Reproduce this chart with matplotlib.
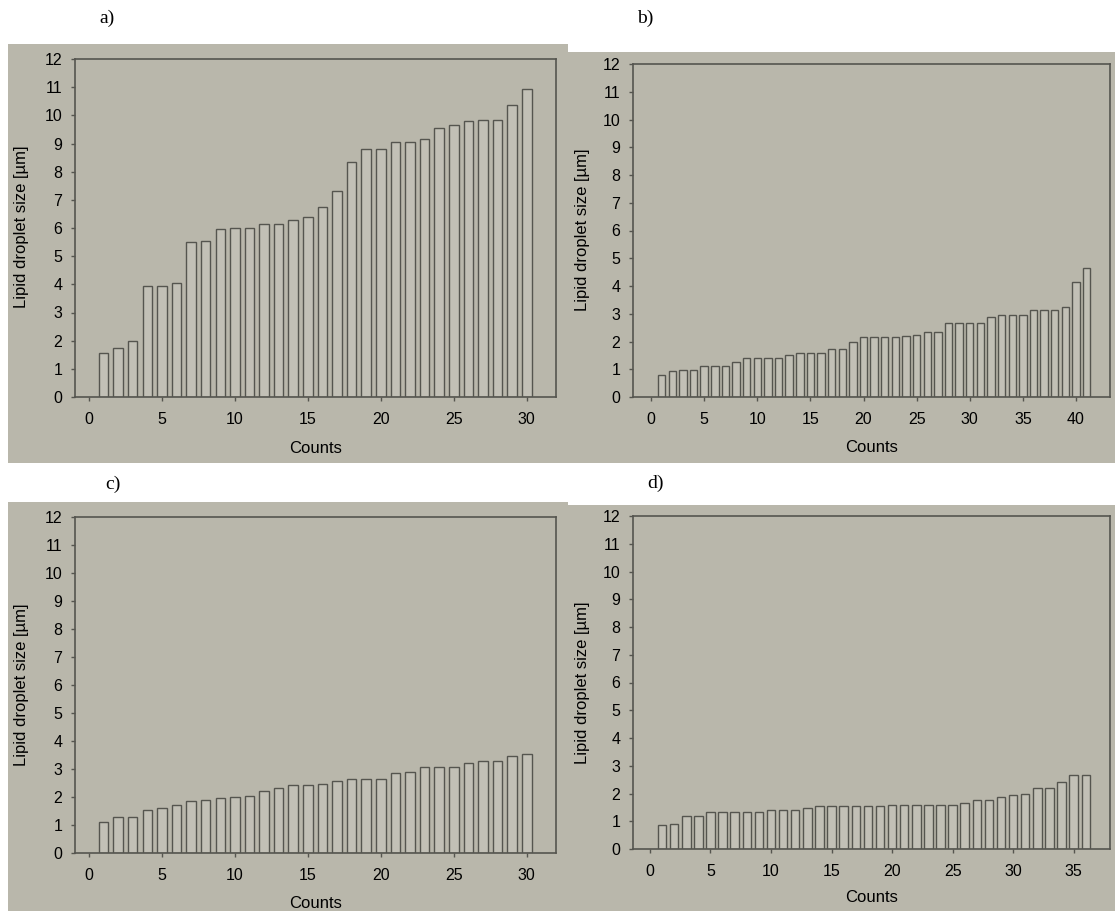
import matplotlib
matplotlib.use("Agg")
import matplotlib.pyplot as plt
from matplotlib.patches import Rectangle

# ---------------- data ----------------
sizes_a = [1.55, 1.75, 2.0, 3.95, 3.95, 4.05, 5.5, 5.55, 5.95, 6.0, 6.0, 6.15, 6.15,
           6.3, 6.4, 6.75, 7.3, 8.35, 8.8, 8.8, 9.05, 9.05, 9.15, 9.55, 9.65, 9.8,
           9.85, 9.85, 10.35, 10.95]
sizes_b = [0.8, 0.95, 0.97, 0.97, 1.1, 1.1, 1.1, 1.25, 1.4, 1.4, 1.4, 1.4, 1.5, 1.57,
           1.57, 1.6, 1.72, 1.72, 1.98, 2.18, 2.18, 2.18, 2.18, 2.2, 2.25, 2.35, 2.35,
           2.65, 2.65, 2.65, 2.68, 2.88, 2.97, 2.97, 2.97, 3.12, 3.12, 3.15, 3.25,
           4.15, 4.65]
sizes_c = [1.1, 1.3, 1.3, 1.55, 1.6, 1.72, 1.87, 1.88, 1.97, 2.0, 2.02, 2.22, 2.33,
           2.42, 2.42, 2.47, 2.56, 2.65, 2.65, 2.65, 2.85, 2.88, 3.07, 3.07, 3.07,
           3.22, 3.3, 3.3, 3.45, 3.52]
sizes_d = [0.88, 0.9, 1.18, 1.18, 1.32, 1.32, 1.35, 1.35, 1.35, 1.4, 1.4, 1.4, 1.48,
           1.55, 1.55, 1.55, 1.55, 1.55, 1.55, 1.57, 1.57, 1.57, 1.57, 1.57, 1.58,
           1.65, 1.78, 1.78, 1.88, 1.95, 1.98, 2.2, 2.2, 2.42, 2.65, 2.65]
panel_labels = ["a)", "b)", "c)", "d)"]
xticks_a = [0, 5, 10, 15, 20, 25, 30]
xticks_b = [0, 5, 10, 15, 20, 25, 30, 35, 40]
xticks_c = [0, 5, 10, 15, 20, 25, 30]
xticks_d = [0, 5, 10, 15, 20, 25, 30, 35]
yticks = list(range(0, 13))
xlabel = "Counts"
ylabel = "Lipid droplet size [µm]"

# ---------------- styling ----------------
W, H = 1115, 911
BG = "#b9b7ab"
BAR_FILL = "#c2c0b6"
EDGE = "#55554f"
SANS = ["Liberation Sans", "DejaVu Sans"]
SERIF = ["Liberation Serif", "DejaVu Serif"]

fig = plt.figure(figsize=(W / 100, H / 100), dpi=100)
fig.patch.set_facecolor("white")

def px_rect(x0, y0, x1, y1):
    return [x0 / W, (H - y1) / H, (x1 - x0) / W, (y1 - y0) / H]

# panel gray backgrounds (pixel boxes)
bg_boxes = [(8, 44, 568, 463), (568, 52, 1115, 463), (8, 502, 568, 911), (568, 505, 1115, 911)]
for (x0, y0, x1, y1) in bg_boxes:
    r = Rectangle((x0 / W, (H - y1) / H), (x1 - x0) / W, (y1 - y0) / H,
                  transform=fig.transFigure, facecolor=BG, edgecolor="none", zorder=-10)
    fig.add_artist(r)

axes_boxes = [(75, 59, 556, 397), (633, 64, 1110, 397), (75, 517, 556, 853), (633, 516, 1110, 849)]
xlims = [(-0.95, 32.0), (-1.7, 43.2), (-0.95, 32.0), (-1.4, 38.0)]
datasets = [sizes_a, sizes_b, sizes_c, sizes_d]
xticks_all = [xticks_a, xticks_b, xticks_c, xticks_d]
title_pos = [(107, 18), (645, 18), (113, 484), (655, 483)]
xlabel_y = [449, 447, 903, 898]
ylabel_x = [22, 583, 22, 583]
ylabel_y = [227, 230, 685, 683]

for i, (box, data, xl, xt) in enumerate(zip(axes_boxes, datasets, xlims, xticks_all)):
    ax = fig.add_axes(px_rect(*box), zorder=5)
    ax.set_facecolor("none")
    xs = list(range(1, len(data) + 1))
    width = 0.65 if len(data) <= 30 else 0.7
    ax.bar(xs, data, width=width, color=BAR_FILL, edgecolor=EDGE, linewidth=1.0)
    ax.set_xlim(*xl)
    ax.set_ylim(0, 12)
    ax.set_xticks(xt)
    ax.set_yticks(yticks)
    for s in ax.spines.values():
        s.set_color(EDGE)
        s.set_linewidth(1.2)
    ax.tick_params(axis="both", direction="out", length=3, width=1, color=EDGE,
                   labelsize=11.5, labelcolor="black")
    ax.tick_params(axis="x", pad=8)
    ax.tick_params(axis="y", pad=6)
    for lab in ax.get_xticklabels() + ax.get_yticklabels():
        lab.set_family(SANS)
    x0, y0, x1, y1 = box
    fig.text((x0 + x1) / 2 / W, 1 - xlabel_y[i] / H, xlabel, ha="center", va="center",
             fontsize=12, family=SANS)
    fig.text(ylabel_x[i] / W, 1 - ylabel_y[i] / H, ylabel, rotation=90,
             ha="center", va="center", fontsize=12, family=SANS)
    tx, ty = title_pos[i]
    fig.text(tx / W, 1 - ty / H, panel_labels[i], ha="center", va="center",
             fontsize=14, family=SERIF)

fig.savefig("out.png", dpi=100, facecolor="white")
